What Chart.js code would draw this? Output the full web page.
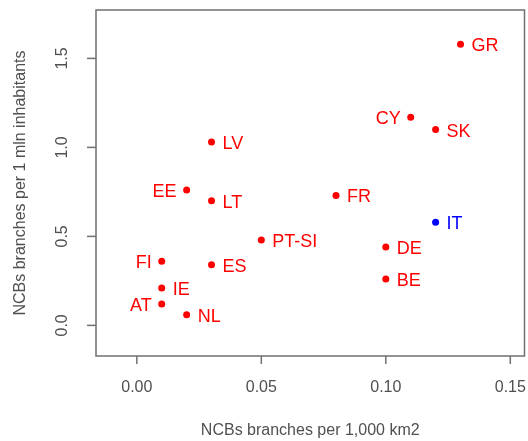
<!DOCTYPE html>
<html lang="en">
<head>
  <meta charset="UTF-8" />
  <title>NCBs branches</title>
  <script src="https://cdn.jsdelivr.net/npm/chart.js"></script>
  <style>
    body { margin: 0; background: #fff; }
    #grafico { display: block; }
  </style>
</head>
<body>
  <canvas id="grafico" width="528" height="441"></canvas>

  <script>
    // dados
    const paises = ['GR', 'CY', 'SK', 'FR', 'IT', 'LV', 'EE', 'LT', 'PT-SI', 'DE', 'BE', 'FI', 'ES', 'IE', 'AT', 'NL'];
    const porArea = [0.13, 0.11, 0.12, 0.08, 0.12, 0.03, 0.02, 0.03, 0.05, 0.10, 0.10, 0.01, 0.03, 0.01, 0.01, 0.02];
    const porHabitante = [1.58, 1.17, 1.10, 0.73, 0.58, 1.03, 0.76, 0.70, 0.48, 0.44, 0.26, 0.36, 0.34, 0.21, 0.12, 0.06];
    const ladoRotulo = ['r', 'l', 'r', 'r', 'r', 'r', 'l', 'r', 'r', 'r', 'r', 'l', 'r', 'r', 'l', 'r'];

    const ticksX = [0, 0.05, 0.10, 0.15];
    const rotulosX = ['0.00', '0.05', '0.10', '0.15'];
    const ticksY = [0, 0.5, 1.0, 1.5];
    const rotulosY = ['0.0', '0.5', '1.0', '1.5'];

    const tituloX = 'NCBs branches per 1,000 km2';
    const tituloY = 'NCBs branches per 1 mln inhabitants';

    const cores = paises.map(p => p === 'IT' ? '#0000ff' : '#ff0000');
    const pontos = paises.map((p, i) => ({ x: porArea[i], y: porHabitante[i] }));

    const fonte = '"Liberation Sans", Arial, sans-serif';

    // desenha moldura, eixos e rotulos no estilo do R
    const estiloR = {
      id: 'estiloR',
      beforeDatasetsDraw(chart) {
        const ctx = chart.ctx;
        const a = chart.chartArea;
        ctx.save();
        ctx.strokeStyle = '#707070';
        ctx.lineWidth = 1.5;
        ctx.strokeRect(a.left, a.top, a.right - a.left, a.bottom - a.top);
        ctx.restore();
      },
      afterDraw(chart) {
        const ctx = chart.ctx;
        const a = chart.chartArea;
        const sx = chart.scales.x;
        const sy = chart.scales.y;
        ctx.save();
        ctx.strokeStyle = '#707070';
        ctx.lineWidth = 1.5;
        ctx.fillStyle = '#505050';
        ctx.font = '16px ' + fonte;

        // eixo x
        ctx.textAlign = 'center';
        ctx.textBaseline = 'middle';
        ticksX.forEach((v, i) => {
          const px = sx.getPixelForValue(v);
          ctx.beginPath();
          ctx.moveTo(px, a.bottom);
          ctx.lineTo(px, a.bottom + 8);
          ctx.stroke();
          ctx.fillText(rotulosX[i], px, 388);
        });

        // eixo y (rotulos girados)
        ticksY.forEach((v, i) => {
          const py = sy.getPixelForValue(v);
          ctx.beginPath();
          ctx.moveTo(a.left, py);
          ctx.lineTo(a.left - 9, py);
          ctx.stroke();
          ctx.save();
          ctx.translate(63, py);
          ctx.rotate(-Math.PI / 2);
          ctx.fillText(rotulosY[i], 0, 0);
          ctx.restore();
        });

        // titulos
        ctx.fillText(tituloX, (a.left + a.right) / 2, 431);
        ctx.save();
        ctx.translate(21, (a.top + a.bottom) / 2);
        ctx.rotate(-Math.PI / 2);
        ctx.fillText(tituloY, 0, 0);
        ctx.restore();

        // nomes dos paises
        ctx.font = '18px ' + fonte;
        pontos.forEach((p, i) => {
          const px = sx.getPixelForValue(p.x);
          const py = sy.getPixelForValue(p.y);
          ctx.fillStyle = cores[i];
          if (ladoRotulo[i] === 'l') {
            ctx.textAlign = 'right';
            ctx.fillText(paises[i], px - 10, py + 2);
          } else {
            ctx.textAlign = 'left';
            ctx.fillText(paises[i], px + 11, py + 2);
          }
        });
        ctx.restore();
      }
    };

    new Chart(document.getElementById('grafico'), {
      type: 'scatter',
      data: {
        datasets: [{
          data: pontos,
          backgroundColor: cores,
          borderColor: cores,
          pointRadius: 3.5,
          pointHoverRadius: 3.5,
          borderWidth: 0
        }]
      },
      options: {
        responsive: false,
        animation: false,
        events: [],
        layout: { padding: { left: 96, top: 10, right: 2, bottom: 85 } },
        plugins: { legend: { display: false }, tooltip: { enabled: false } },
        scales: {
          x: { type: 'linear', display: false, min: -0.0164, max: 0.1557 },
          y: { type: 'linear', display: false, min: -0.172, max: 1.772 }
        }
      },
      plugins: [estiloR]
    });
  </script>
</body>
</html>
